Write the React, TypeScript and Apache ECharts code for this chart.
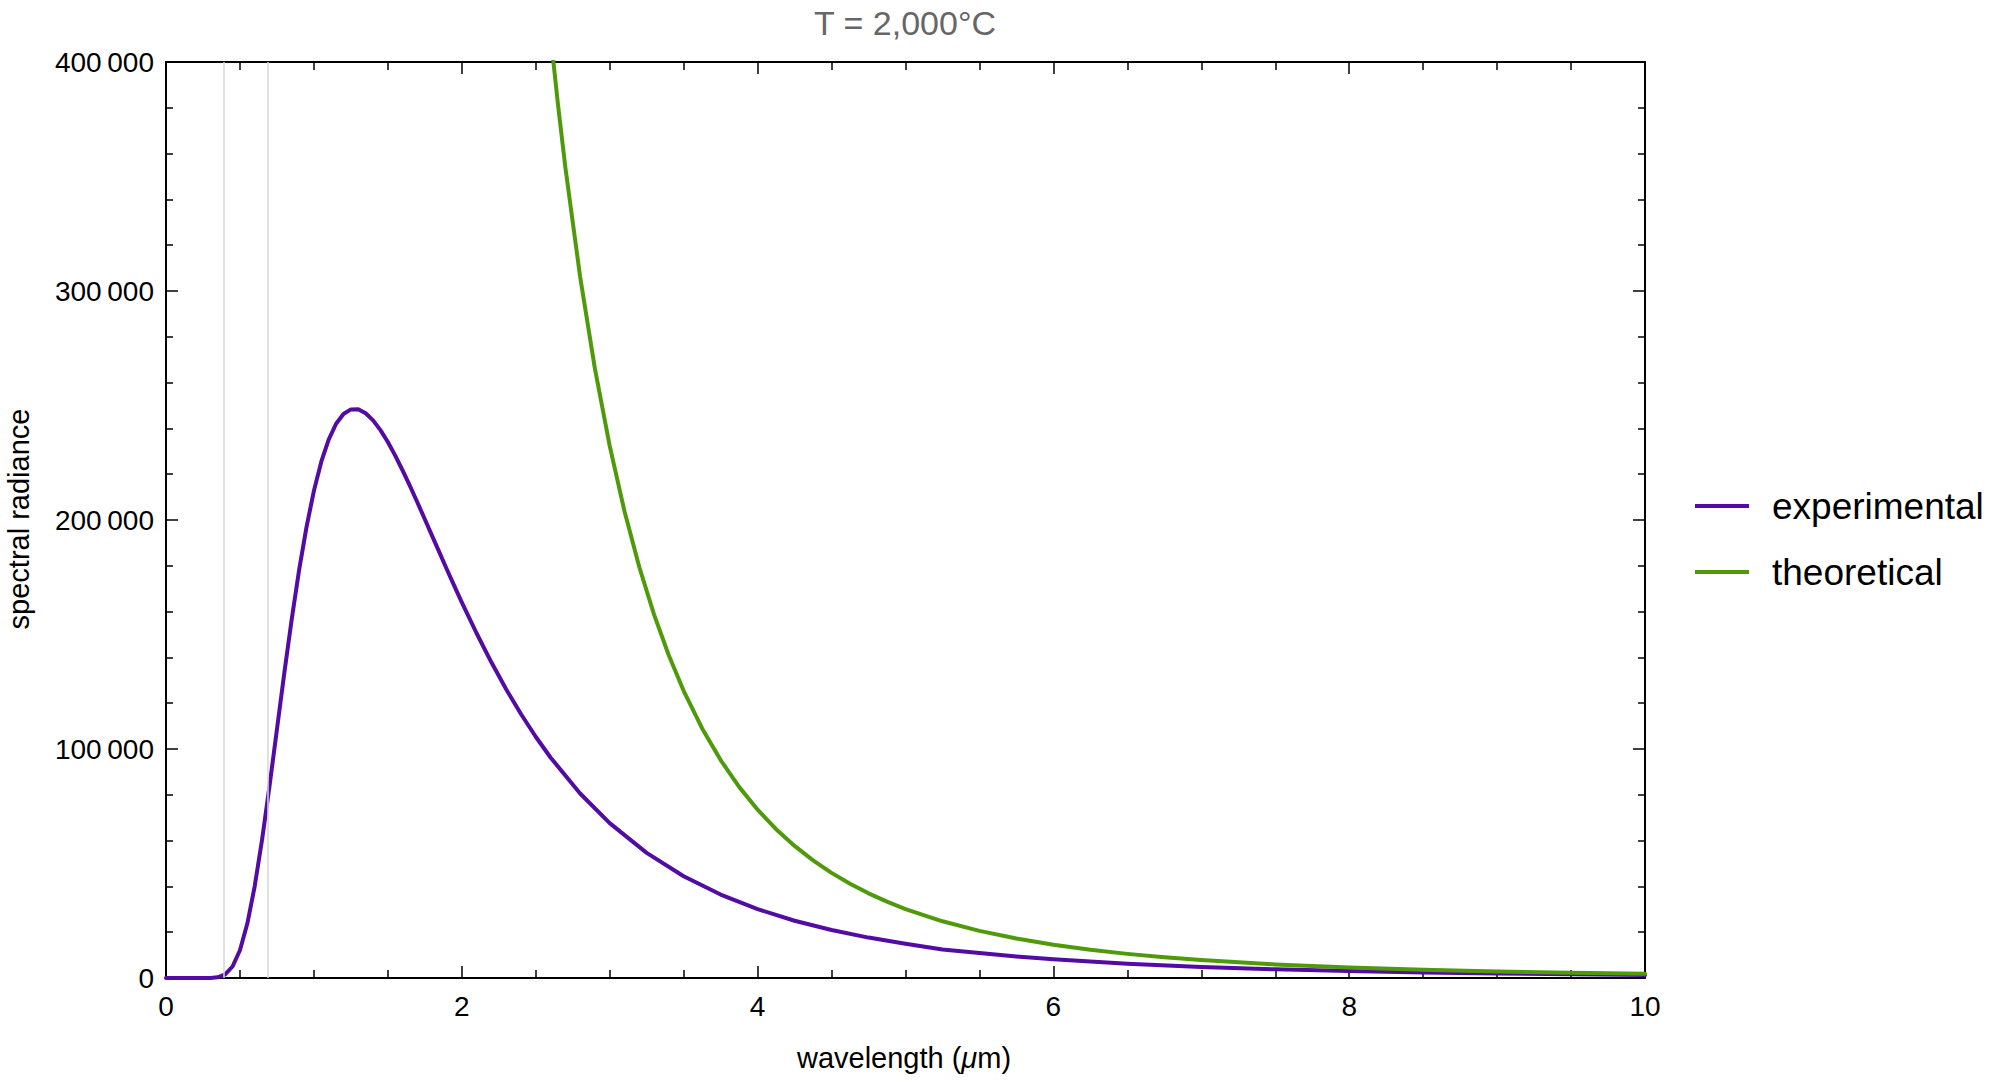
import React, { useEffect, useRef } from "react";
import * as echarts from "echarts";

const chartTitle = "T = 2,000°C";
const yAxisName = "spectral radiance";
const seriesNames = ["experimental", "theoretical"];

const xTicks = [0, 2, 4, 6, 8, 10];
const yTicks = [0, 100000, 200000, 300000, 400000];

// visible-band guide lines (μm)
const visibleBand = [0.39, 0.69];

const expWavelength = [
  0, 0.1, 0.2, 0.3, 0.35, 0.4, 0.45, 0.5, 0.55, 0.6, 0.65, 0.7, 0.75, 0.8, 0.85, 0.9, 0.95,
  1.0, 1.05, 1.1, 1.15, 1.2, 1.25, 1.3, 1.35, 1.4, 1.45, 1.5, 1.55, 1.6, 1.65, 1.7, 1.75,
  1.8, 1.85, 1.9, 1.95, 2.0, 2.1, 2.2, 2.3, 2.4, 2.5, 2.6, 2.8, 3.0, 3.25, 3.5, 3.75, 4.0,
  4.25, 4.5, 4.75, 5.0, 5.25, 5.5, 5.75, 6.0, 6.5, 7.0, 7.5, 8.0, 8.5, 9.0, 9.5, 10,
];
const expRadiance = [
  0, 0, 0, 34, 319, 1561, 5025, 12115, 23782, 40158, 60565, 83862, 108510, 133180, 156690,
  178140, 196900, 212720, 225440, 235140, 242020, 246300, 248290, 248330, 246630, 243510,
  239260, 234040, 228110, 221620, 214790, 207630, 200340, 192970, 185630, 178290, 171150,
  164060, 150550, 137850, 126090, 115270, 105340, 96300, 80580, 67630, 54650, 44450, 36430,
  30080, 25005, 20940, 17644, 14968, 12468, 10952, 9435, 8183, 6229, 4821, 3786, 3013, 2428,
  1977, 1625, 1349,
];

const theoWavelength = [
  2.6, 2.65, 2.7, 2.8, 2.9, 3.0, 3.1, 3.2, 3.3, 3.4, 3.5, 3.625, 3.75, 3.875, 4.0, 4.125,
  4.25, 4.375, 4.5, 4.625, 4.75, 4.875, 5.0, 5.25, 5.5, 5.75, 6.0, 6.25, 6.5, 6.75, 7.0, 7.5,
  8.0, 8.5, 9.0, 9.5, 10,
];
const theoRadiance = [
  411800, 381600, 354100, 306200, 266100, 232350, 203800, 179480, 158690, 140840, 125410,
  108980, 95170, 83460, 73520, 65000, 57680, 51370, 45900, 41130, 36970, 33320, 30110, 24770,
  20570, 17220, 14520, 12330, 10540, 9066, 7838, 5948, 4595, 3605, 2868, 2311, 1882,
];

const FONT = "'Liberation Sans', Arial, Helvetica, sans-serif";
const PURPLE = "#520ba3";
const GREEN = "#4f9a0b";

function fmtY(v: number): string {
  if (v === 0) return "0";
  const s = Math.round(v).toString();
  return s.replace(/\B(?=(\d{3})+(?!\d))/g, "\u2009");
}

export default function App() {
  const ref = useRef<HTMLDivElement>(null);

  useEffect(() => {
    if (!ref.current) return;
    const chart = echarts.init(ref.current, null, { renderer: "svg" });

    const expData = expWavelength.map((x, i) => [x, expRadiance[i]]);
    const theoData = theoWavelength.map((x, i) => [x, theoRadiance[i]]);

    const axisLine = { show: true, onZero: false, lineStyle: { color: "#000", width: 2 } };
    const xMin = xTicks[0];
    const xMax = xTicks[xTicks.length - 1];
    const xInt = xTicks[1] - xTicks[0];
    const yMin = yTicks[0];
    const yMax = yTicks[yTicks.length - 1];
    const yInt = yTicks[1] - yTicks[0];

    const baseX = {
      type: "value",
      min: xMin,
      max: xMax,
      interval: xInt,
      axisLine,
      axisTick: { show: true, inside: true, length: 12, lineStyle: { color: "#000", width: 1.5 } },
      minorTick: { show: true, splitNumber: 4, length: 8, lineStyle: { color: "#000", width: 1.5 } },
      splitLine: { show: false },
      minorSplitLine: { show: false },
    };
    const baseY = {
      type: "value",
      min: yMin,
      max: yMax,
      interval: yInt,
      axisLine,
      axisTick: { show: true, inside: true, length: 12, lineStyle: { color: "#000", width: 1.5 } },
      minorTick: { show: true, splitNumber: 5, length: 7, lineStyle: { color: "#000", width: 1.5 } },
      splitLine: { show: false },
      minorSplitLine: { show: false },
    };

    const option: any = {
      animation: false,
      backgroundColor: "#fff",
      textStyle: { fontFamily: FONT },
      grid: { left: 166, right: 355, top: 62, bottom: 106, containLabel: false },
      xAxis: [
        {
          ...baseX,
          position: "bottom",
          axisLabel: { show: true, color: "#000", fontSize: 28, fontFamily: FONT, margin: 14 },
        },
        {
          ...baseX,
          position: "top",
          axisLabel: { show: false },
        },
      ],
      yAxis: [
        {
          ...baseY,
          position: "left",
          axisLabel: {
            show: true,
            color: "#000",
            fontSize: 28,
            fontFamily: FONT,
            margin: 12,
            formatter: (v: number) => fmtY(v),
          },
        },
        {
          ...baseY,
          position: "right",
          axisLabel: { show: false },
        },
      ],
      legend: {
        orient: "vertical",
        left: 1690,
        top: 481,
        icon: "rect",
        itemWidth: 54,
        itemHeight: 4,
        itemGap: 26,
        data: seriesNames,
        textStyle: { color: "#000", fontSize: 37, fontFamily: FONT, lineHeight: 40, padding: [0, 0, 0, 18] },
      },
      graphic: [
        {
          type: "text",
          x: 905,
          y: 23,
          style: {
            text: chartTitle,
            fill: "#666",
            font: `34px ${FONT}`,
            align: "center",
            verticalAlign: "middle",
          },
        },
        {
          type: "text",
          x: 19,
          y: 519,
          rotation: Math.PI / 2,
          style: {
            text: yAxisName,
            fill: "#000",
            font: `29px ${FONT}`,
            align: "center",
            verticalAlign: "middle",
          },
        },
        {
          type: "text",
          x: 904,
          y: 1058,
          style: {
            text: "{a|wavelength (}{b|μ}{a|m)}",
            rich: {
              a: { fontSize: 29, fontFamily: FONT, fill: "#000" },
              b: { fontSize: 29, fontFamily: FONT, fontStyle: "italic", fill: "#000" },
            },
            align: "center",
            verticalAlign: "middle",
          },
        },
      ],
      series: [
        {
          name: seriesNames[0],
          type: "line",
          data: expData,
          showSymbol: false,
          symbol: "none",
          smooth: false,
          clip: true,
          lineStyle: { color: PURPLE, width: 4, join: "round", cap: "round" },
          itemStyle: { color: PURPLE },
          markLine: {
            silent: true,
            symbol: "none",
            label: { show: false },
            animation: false,
            lineStyle: { color: "#d6d6d6", width: 1.5, type: "solid" },
            data: visibleBand.map((v) => ({ xAxis: v })),
          },
          z: 3,
        },
        {
          name: seriesNames[1],
          type: "line",
          data: theoData,
          showSymbol: false,
          symbol: "none",
          smooth: false,
          clip: true,
          lineStyle: { color: GREEN, width: 4, join: "round", cap: "round" },
          itemStyle: { color: GREEN },
          z: 4,
        },
      ],
    };

    chart.setOption(option);
    return () => chart.dispose();
  }, []);

  return (
    <div
      ref={ref}
      style={{ position: "fixed", left: 0, top: 0, width: 2000, height: 1084, background: "#fff" }}
    />
  );
}
